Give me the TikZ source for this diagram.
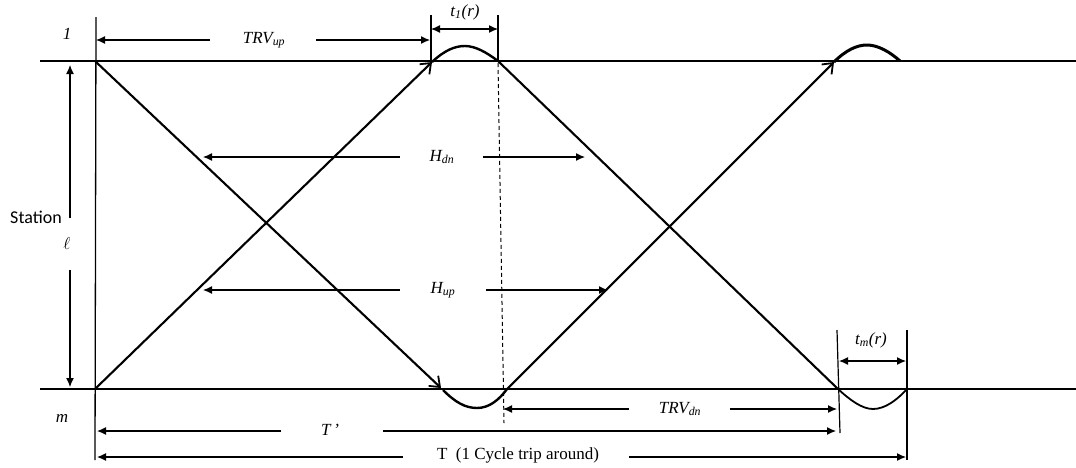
\documentclass[tikz,border=0pt]{standalone}
\usepackage{fontspec}
\setmainfont{Liberation Serif}
\newfontfamily\calib{Carlito}
\usetikzlibrary{arrows.meta}
\begin{document}
\begin{tikzpicture}[x=1pt,y=-1pt,
  base/.style={line width=1.3pt},
  trainline/.style={line width=2.1pt},
  trainarr/.style={line width=2.1pt,-{Straight Barb[length=9pt,width=14pt,line width=1.8pt]}},
  dwell/.style={line width=2.4pt},
  dimarr/.style={line width=1.2pt,-{Latex[length=9pt,width=8pt]}},
  dimboth/.style={line width=1.2pt,{Latex[length=9pt,width=8pt]}-{Latex[length=9pt,width=8pt]}},
  lab/.style={font=\fontsize{17}{19}\selectfont\itshape, inner sep=0pt},
  rlab/.style={font=\fontsize{17}{19}\selectfont, inner sep=0pt},
]
\useasboundingbox (0,0) rectangle (1076,467);

% station lines
\coordinate (TL) at (40,61);  \coordinate (TR) at (1076,61);
\coordinate (BL) at (40,389); \coordinate (BR) at (1076,389);
\draw[base] (TL) -- (TR);
\draw[base] (BL) -- (BR);

% key points
\coordinate (O1) at (95,61);
\coordinate (O2) at (95,389);
\coordinate (A1) at (432,62);
\coordinate (A1e) at (498,61);
\coordinate (D1) at (441,388);
\coordinate (D1s) at (443,390);
\coordinate (D1e) at (507,389);
\coordinate (A2) at (834,62);
\coordinate (A2e) at (900,61);
\coordinate (D2) at (838,389);
\coordinate (D2e) at (907,389);

% left vertical reference
\coordinate (Vt) at (96,17); \coordinate (Vb) at (95,460);
\draw[base] (Vt) -- (Vb);

% station axis
\node[font=\calib\fontsize{18}{20}\selectfont, inner sep=0pt] (station) at (36,217) {Station};
\node[font=\fontsize{18}{20}\selectfont, inner sep=0pt] (ell) at (67,243) {$\ell$};
\coordinate (Sa) at (70,218); \coordinate (Sat) at (70,65);
\coordinate (Sb) at (70,270); \coordinate (Sbt) at (70,387);
\draw[dimarr] (Sa) -- (Sat);
\draw[dimarr] (Sb) -- (Sbt);
\node[lab] (one) at (67,34) {1};
\node[lab] (m) at (62,418) {m};

% train paths
\draw[trainarr] (O1) -- (D1);
\draw[trainarr] (O2) -- (A1);
\draw[dwell] (A1) .. controls (445,50) and (455,46) .. (465,46) .. controls (475,46) and (486,52) .. (A1e);
\draw[dwell] (D1s) .. controls (455,402) and (465,408) .. (477,408) .. controls (489,408) and (499,400) .. (D1e);
\draw[trainline] (A1e) -- (D2);
\draw[trainarr] (D1e) -- (A2);
\draw[line width=3pt] (A2) .. controls (846,50) and (857,45) .. (867,45) .. controls (878,45) and (890,52) .. (A2e);
\draw[line width=1.8pt] (D2) .. controls (850,400) and (862,409) .. (873,409) .. controls (885,409) and (897,400) .. (D2e);

% dashed
\coordinate (Dt) at (498,63); \coordinate (Db) at (504,423);
\draw[line width=1pt, dash pattern=on 4pt off 3pt] (Dt) -- (Db);

% t1(r)
\coordinate (t1a) at (431,15); \coordinate (t1b) at (498,15);
\coordinate (t1c) at (431,61); \coordinate (t1d) at (498,61);
\draw[line width=1.2pt] (t1a) -- (t1c);
\draw[line width=1.2pt] (t1b) -- (t1d);
\draw[dimboth] (431,29) -- (498,29);
\node[lab] (t1) at (465,12) {t\textsubscript{1}(r)};

% TRV up
\node[lab] (trvup) at (264,40) {TRV\textsubscript{up}};
\draw[dimarr] (210,40) -- (96,40);
\draw[dimarr] (316,40) -- (430,40);

% H dn
\node[lab] (hdn) at (442,157) {H\textsubscript{dn}};
\draw[dimarr] (400,157) -- (203,157);
\draw[dimarr] (483,157) -- (585,157);

% H up
\node[lab] (hup) at (443,290) {H\textsubscript{up}};
\draw[dimarr] (400,290) -- (203,290);
\draw[dimarr] (486,290) -- (608,290);

% tm(r)
\coordinate (tma) at (837,330); \coordinate (tmb) at (907,330);
\coordinate (tmc) at (840,433); \coordinate (tmd) at (907,460);
\draw[line width=1.2pt] (tma) -- (tmc);
\draw[line width=1.2pt] (tmb) -- (tmd);
\draw[dimboth] (839,361) -- (906,361);
\node[lab] (tm) at (871,340) {t\textsubscript{m}(r)};

% TRV dn
\node[lab] (trvdn) at (680,409) {TRV\textsubscript{dn}};
\draw[dimarr] (629,409) -- (503,409);
\draw[dimarr] (730,409) -- (837,409);

% T'
\node[lab] (tprime) at (330,430) {T\,'};
\draw[dimarr] (281,431) -- (97,431);
\draw[dimarr] (383,431) -- (836,431);

% T
\node[rlab] (tcyc) at (518,455) {T\ \ (1 Cycle trip around)};
\draw[dimarr] (403,457) -- (97,457);
\draw[dimarr] (629,457) -- (906,457);
\end{tikzpicture}
\end{document}
